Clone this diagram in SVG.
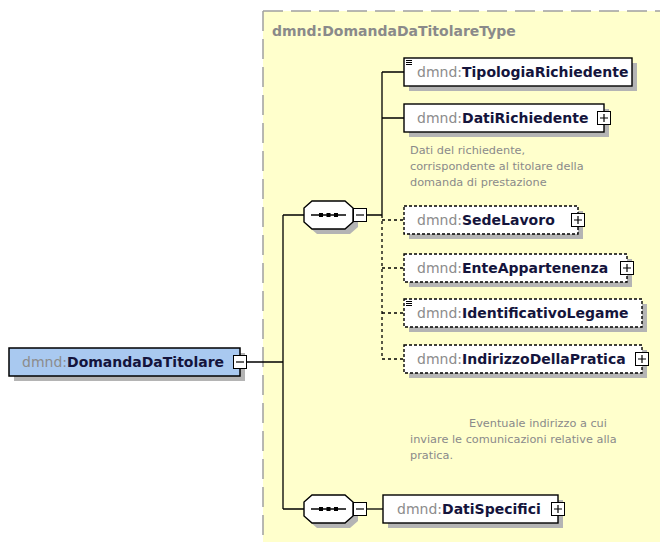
<svg xmlns="http://www.w3.org/2000/svg" xmlns:xlink="http://www.w3.org/1999/xlink" width="660" height="542" viewBox="0 0 660 542">
<style>
.shadow{fill:#b4b4b4;stroke:none}
.box{fill:#ffffff;stroke:#000;stroke-width:1.4}
.opt{fill:#ffffff;stroke:#000;stroke-width:1.4;stroke-dasharray:3,2}
.root{fill:#a9c9f0;stroke:#000;stroke-width:1.5}
.exp{fill:#ffffff;stroke:#000;stroke-width:1}
.sign{stroke:#000;stroke-width:1.2}
.line{stroke:#000;stroke-width:1.3;fill:none}
.dline{stroke:#000;stroke-width:1.3;fill:none;stroke-dasharray:3,3}
.lbl{font-family:"DejaVu Sans",Verdana,sans-serif;font-size:14px;fill:#14143c;font-weight:bold}
.ns{fill:#8c8c8c;font-weight:normal}
.title{font-family:"DejaVu Sans",Verdana,sans-serif;font-size:14px;fill:#8a8a8a;font-weight:bold}
.desc{font-family:"DejaVu Sans",Verdana,sans-serif;font-size:11.3px;fill:#8a8a8a}
.seq{fill:#ffffff;stroke:#000;stroke-width:1.4}
.icon{stroke:#000;stroke-width:1}
</style>
<defs>
<path id="oct" d="M8,0 H41 L49,7 V21 L41,28 H8 L0,21 V7 Z"/>
</defs>
<g id="type-area">
<rect x="263" y="11" width="400" height="535" fill="#ffffcc"/>
<path d="M263,11 H660 M263,11 V542" stroke="#a0a0a0" stroke-width="1.5" stroke-dasharray="20,8" fill="none"/>
<text class="title" x="272" y="36">dmnd:DomandaDaTitolareType</text>
</g>
<g id="connectors">
<path class="line" d="M247,362 H283 M283,215 V509 M283,215 H304 M283,509 H304"/>
<path class="line" d="M367,215 H382 M382,72 V215 M382,72 H404 M382,118 H404"/>
<path class="dline" d="M382,215 V359 M382,220 H404 M382,268 H404 M382,313 H404 M382,359 H404"/>
<path class="line" d="M367,509 H383"/>
</g>
<g id="DomandaDaTitolare">
<rect class="shadow" x="14" y="353" width="231" height="28"/>
<rect class="root" x="9" y="348" width="231" height="28"/>
<text class="lbl" x="22" y="367"><tspan class="ns">dmnd:</tspan>DomandaDaTitolare</text>
<rect class="exp" x="233.5" y="355.5" width="13" height="13"/>
<path class="sign" d="M236,362 H244"/>
</g>
<g id="sequence1">
<use href="#oct" x="309" y="206" class="shadow"/>
<use href="#oct" x="304" y="201" class="seq"/>
<path class="line" d="M311,215 H346"/>
<rect x="319" y="213" width="4" height="4"/>
<rect x="326.5" y="213" width="4" height="4"/>
<rect x="334" y="213" width="4" height="4"/>
<rect class="exp" x="353.5" y="208.5" width="13" height="13"/>
<path class="sign" d="M356,215 H364"/>
</g>
<g id="sequence2">
<use href="#oct" x="309" y="500" class="shadow"/>
<use href="#oct" x="304" y="495" class="seq"/>
<path class="line" d="M311,509 H346"/>
<rect x="319" y="507" width="4" height="4"/>
<rect x="326.5" y="507" width="4" height="4"/>
<rect x="334" y="507" width="4" height="4"/>
<rect class="exp" x="353.5" y="502.5" width="13" height="13"/>
<path class="sign" d="M356,509 H364"/>
</g>
<g id="TipologiaRichiedente">
<rect class="shadow" x="409" y="63" width="228" height="28"/>
<rect class="box" x="404" y="58" width="228" height="28"/>
<path class="icon" d="M406,60.5 H412 M406,62.5 H412 M406,64.5 H412"/>
<text class="lbl" x="417" y="77"><tspan class="ns">dmnd:</tspan>TipologiaRichiedente</text>
</g>
<g id="DatiRichiedente">
<rect class="shadow" x="409" y="109" width="200" height="28"/>
<rect class="box" x="404" y="104" width="200" height="28"/>
<text class="lbl" x="417" y="123"><tspan class="ns">dmnd:</tspan>DatiRichiedente</text>
<rect class="exp" x="597.5" y="111.5" width="13" height="13"/>
<path class="sign" d="M600,118 H608 M604,114 V122"/>
<text class="desc"><tspan x="410" y="154">Dati del richiedente,</tspan><tspan x="410" y="170">corrispondente al titolare della</tspan><tspan x="410" y="186">domanda di prestazione</tspan></text>
</g>
<g id="SedeLavoro">
<rect class="shadow" x="409" y="211" width="174" height="28"/>
<rect class="opt" x="404" y="206" width="174" height="28"/>
<text class="lbl" x="417" y="225"><tspan class="ns">dmnd:</tspan>SedeLavoro</text>
<rect class="exp" x="571.5" y="213.5" width="13" height="13"/>
<path class="sign" d="M574,220 H582 M578,216 V224"/>
</g>
<g id="EnteAppartenenza">
<rect class="shadow" x="409" y="259" width="223" height="28"/>
<rect class="opt" x="404" y="254" width="223" height="28"/>
<text class="lbl" x="417" y="273"><tspan class="ns">dmnd:</tspan>EnteAppartenenza</text>
<rect class="exp" x="620.5" y="261.5" width="13" height="13"/>
<path class="sign" d="M623,268 H631 M627,264 V272"/>
</g>
<g id="IdentificativoLegame">
<rect class="shadow" x="409" y="304" width="238" height="28"/>
<rect class="opt" x="404" y="299" width="238" height="28"/>
<path class="icon" d="M406,301.5 H412 M406,303.5 H412 M406,305.5 H412"/>
<text class="lbl" x="417" y="318"><tspan class="ns">dmnd:</tspan>IdentificativoLegame</text>
</g>
<g id="IndirizzoDellaPratica">
<rect class="shadow" x="409" y="350" width="238" height="28"/>
<rect class="opt" x="404" y="345" width="238" height="28"/>
<text class="lbl" x="417" y="364"><tspan class="ns">dmnd:</tspan>IndirizzoDellaPratica</text>
<rect class="exp" x="635.5" y="352.5" width="13" height="13"/>
<path class="sign" d="M638,359 H646 M642,355 V363"/>
<text class="desc"><tspan x="469" y="427">Eventuale indirizzo a cui</tspan><tspan x="410" y="443">inviare le comunicazioni relative alla</tspan><tspan x="410" y="459">pratica.</tspan></text>
</g>
<g id="DatiSpecifici">
<rect class="shadow" x="388" y="500" width="175" height="28"/>
<rect class="box" x="383" y="495" width="175" height="28"/>
<text class="lbl" x="397" y="514"><tspan class="ns">dmnd:</tspan>DatiSpecifici</text>
<rect class="exp" x="551.5" y="502.5" width="13" height="13"/>
<path class="sign" d="M554,509 H562 M558,505 V513"/>
</g>
</svg>
